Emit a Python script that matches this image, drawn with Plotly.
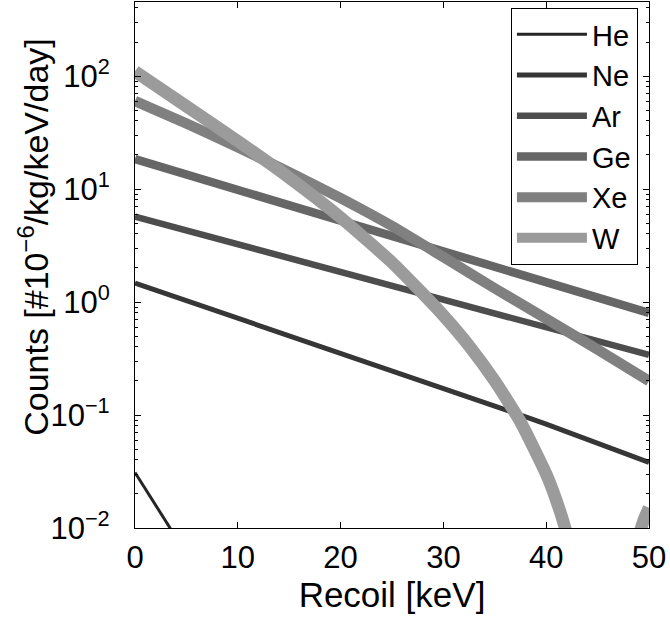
import plotly.graph_objects as go

# ---- data ----
recoil_he = [0, 5]
counts_he = [0.031, 0.0059]

recoil_lin = [0, 5, 10, 15, 20, 25, 30, 35, 40, 45, 50]
counts_ne = [1.47, 1.03, 0.72, 0.50, 0.355, 0.25, 0.174, 0.12, 0.083, 0.056, 0.038]
counts_ar = [5.7, 4.3, 3.24, 2.44, 1.84, 1.39, 1.05, 0.79, 0.60, 0.45, 0.34]
counts_ge = [18.4, 13.5, 9.8, 7.2, 5.3, 3.85, 2.8, 2.06, 1.5, 1.1, 0.80]
counts_xe = [60, 38, 23.4, 14.1, 8.3, 4.7, 2.5, 1.32, 0.71, 0.38, 0.20]

recoil_w = [0, 5, 10, 15, 20, 25, 27.5, 30, 32.5, 35, 37.5, 40, 41, 42, 43,
            45, 47, 48, 48.5, 49, 49.5, 50]
counts_w = [110, 54, 26.5, 12.6, 5.6, 2.24, 1.32, 0.76, 0.41, 0.20, 0.087,
            0.030, 0.0174, 0.0089, 0.0035, 0.0002, 0.001, 0.0025, 0.005,
            0.0083, 0.0118, 0.0151]

names = ["He", "Ne", "Ar", "Ge", "Xe", "W"]
colors = ["#252525", "#363636", "#4d4d4d", "#666666", "#808080", "#9b9b9b"]
widths = [3, 5, 6.5, 8.5, 10.5, 12.5]
shapes_ = ["linear", "linear", "linear", "linear", "spline", "spline"]

series = [
    (recoil_he, counts_he),
    (recoil_lin, counts_ne),
    (recoil_lin, counts_ar),
    (recoil_lin, counts_ge),
    (recoil_lin, counts_xe),
    (recoil_w, counts_w),
]

FONT = "Liberation Sans, Arial, Helvetica, sans-serif"

fig = go.Figure()
for (xs, ys), n, c, w, s in zip(series, names, colors, widths, shapes_):
    fig.add_trace(go.Scatter(x=xs, y=ys, mode="lines", name=n,
                             line=dict(color=c, width=w, shape=s,
                                       smoothing=0.5)))

minor_vals = [m * 10 ** e for e in range(-2, 3) for m in range(2, 10)]

fig.update_layout(
    width=670, height=617,
    margin=dict(l=135, r=21, t=2, b=89, autoexpand=False),
    paper_bgcolor="white", plot_bgcolor="white",
    font=dict(family=FONT, size=30, color="black"),
    showlegend=True,
    legend=dict(x=0.731, y=0.989, xanchor="left", yanchor="top",
                bgcolor="white", bordercolor="black", borderwidth=1.2,
                font=dict(size=29), itemwidth=70, tracegroupgap=0),
    xaxis=dict(range=[0, 50], tickmode="array", tickvals=[0, 10, 20, 30, 40, 50],
               ticks="inside", ticklen=6, tickwidth=1, tickcolor="black",
               showline=True, linecolor="black", linewidth=1.2, mirror="ticks",
               showgrid=False, zeroline=False, automargin=False,
               tickfont=dict(size=31), ticklabelstandoff=2,
               title=dict(text="Recoil [keV]", font=dict(size=35), standoff=0)),
    yaxis=dict(type="log", range=[-2, 2.655], tickmode="array",
               tickvals=[0.01, 0.1, 1, 10, 100],
               ticktext=["10<sup>−2</sup>", "10<sup>−1</sup>", "10<sup>0</sup>",
                         "10<sup>1</sup>", "10<sup>2</sup>"],
               ticks="inside", ticklen=6, tickwidth=1, tickcolor="black",
               minor=dict(tickmode="array", tickvals=minor_vals, ticks="inside",
                          ticklen=3, tickcolor="black", showgrid=False),
               showline=True, linecolor="black", linewidth=1.2, mirror="ticks",
               showgrid=False, zeroline=False, automargin=False,
               tickfont=dict(size=31), ticklabelstandoff=18),
    annotations=[dict(text="Counts [#10<sup>−6</sup>/kg/keV/day]",
                      xref="paper", yref="paper", x=-0.199, y=0.553,
                      xanchor="center", yanchor="middle", textangle=-90,
                      showarrow=False, font=dict(size=34))],
)

fig.write_html("out.html", config={"displayModeBar": False},
               post_script="document.body.style.margin='0';document.body.style.padding='0';")
